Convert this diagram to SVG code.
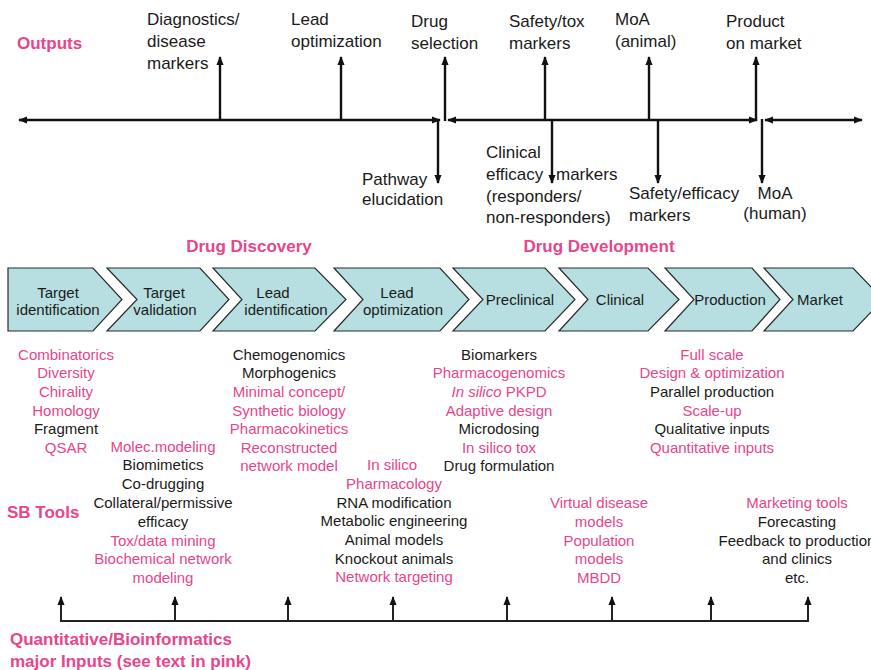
<svg xmlns="http://www.w3.org/2000/svg" width="871" height="670" viewBox="0 0 871 670">
  <defs>
    <marker id="head" viewBox="0 0 10 8" refX="9" refY="4" markerWidth="9" markerHeight="8" markerUnits="userSpaceOnUse" orient="auto-start-reverse">
      <path d="M0,0 L10,4 L0,8 z" fill="#111"/>
    </marker>
    <style>
      text { font-family: "Liberation Sans", Arial, sans-serif; }
      .out { font-size: 17px; fill: #1a1a1a; }
      .hdr { font-size: 17px; font-weight: bold; fill: #E8458B; }
      .stage { fill: #B7DFE1; stroke: #2a2a2a; stroke-width: 1.2; }
      .lbl { font-size: 15px; fill: #1a1a1a; text-anchor: middle; }
      .tool { font-size: 15px; text-anchor: middle; fill: #1a1a1a; }
      .pk { fill: #E8458B; }
      .axis { stroke: #111; stroke-width: 2.4; fill: none; }
      .thin { stroke: #222; stroke-width: 2; fill: none; }
    </style>
  </defs>

  <!-- section headings -->
  <g id="headings">
    <text class="hdr" x="17" y="49">Outputs</text>
    <text class="hdr" x="249" y="252" text-anchor="middle">Drug Discovery</text>
    <text class="hdr" x="599" y="252" text-anchor="middle">Drug Development</text>
    <text class="hdr" x="7" y="518">SB Tools</text>
    <text class="hdr" x="10" y="645">Quantitative/Bioinformatics</text>
    <text class="hdr" x="10" y="667">major Inputs (see text in pink)</text>
  </g>

  <!-- output timeline connectors -->
  <g id="connectors">
    <line class="axis" x1="19" y1="120" x2="440" y2="120" marker-start="url(#head)" marker-end="url(#head)"/>
    <line class="axis" x1="220" y1="121" x2="220" y2="57" marker-end="url(#head)"/>
    <line class="axis" x1="341" y1="121" x2="341" y2="57" marker-end="url(#head)"/>
    <line class="axis" x1="438" y1="119" x2="438" y2="183" marker-end="url(#head)"/>
    <line class="axis" x1="448" y1="120" x2="757" y2="120" marker-start="url(#head)" marker-end="url(#head)"/>
    <line class="axis" x1="445" y1="121" x2="445" y2="57" marker-end="url(#head)"/>
    <line class="axis" x1="545" y1="121" x2="545" y2="57" marker-end="url(#head)"/>
    <line class="axis" x1="552" y1="119" x2="552" y2="183" marker-end="url(#head)"/>
    <line class="axis" x1="649" y1="121" x2="649" y2="57" marker-end="url(#head)"/>
    <line class="axis" x1="658" y1="119" x2="658" y2="183" marker-end="url(#head)"/>
    <line class="axis" x1="756" y1="121" x2="756" y2="57" marker-end="url(#head)"/>
    <line class="axis" x1="765" y1="120" x2="862" y2="120" marker-start="url(#head)" marker-end="url(#head)"/>
    <line class="axis" x1="762" y1="119" x2="762" y2="183" marker-end="url(#head)"/>

    <!-- input bus -->
    <line class="thin" x1="60" y1="621" x2="809" y2="621"/>
    <line class="thin" x1="61" y1="622" x2="61" y2="597" marker-end="url(#head)"/>
    <line class="thin" x1="175" y1="622" x2="175" y2="597" marker-end="url(#head)"/>
    <line class="thin" x1="288" y1="622" x2="288" y2="597" marker-end="url(#head)"/>
    <line class="thin" x1="393" y1="622" x2="393" y2="597" marker-end="url(#head)"/>
    <line class="thin" x1="507" y1="622" x2="507" y2="597" marker-end="url(#head)"/>
    <line class="thin" x1="612" y1="622" x2="612" y2="597" marker-end="url(#head)"/>
    <line class="thin" x1="711" y1="622" x2="711" y2="597" marker-end="url(#head)"/>
    <line class="thin" x1="808" y1="622" x2="808" y2="597" marker-end="url(#head)"/>
  </g>

  <!-- outputs -->
  <g id="out-diagnostics"><text class="out" x="147" y="25">Diagnostics/</text><text class="out" x="147" y="47">disease</text><text class="out" x="147" y="69">markers</text></g>
  <g id="out-lead"><text class="out" x="291" y="25">Lead</text><text class="out" x="291" y="47">optimization</text></g>
  <g id="out-drug"><text class="out" x="411" y="27">Drug</text><text class="out" x="411" y="49">selection</text></g>
  <g id="out-safety-tox"><text class="out" x="509" y="27">Safety/tox</text><text class="out" x="509" y="49">markers</text></g>
  <g id="out-moa-animal"><text class="out" x="615" y="25">MoA</text><text class="out" x="615" y="47">(animal)</text></g>
  <g id="out-product"><text class="out" x="726" y="27">Product</text><text class="out" x="726" y="49">on market</text></g>
  <g id="out-pathway"><text class="out" x="362" y="185">Pathway</text><text class="out" x="362" y="205">elucidation</text></g>
  <g id="out-clinical"><text class="out" x="486" y="158">Clinical</text><text class="out" y="180"><tspan x="486">efficacy</tspan><tspan x="556">markers</tspan></text><text class="out" x="486" y="202">(responders/</text><text class="out" x="486" y="223">non-responders)</text></g>
  <g id="out-safety-efficacy"><text class="out" x="629" y="199">Safety/efficacy</text><text class="out" x="629" y="221">markers</text></g>
  <g id="out-moa-human"><text class="out" x="775" y="199" text-anchor="middle">MoA</text><text class="out" x="775" y="219" text-anchor="middle">(human)</text></g>

  <!-- pipeline stages -->
  <g id="stage-target-id"><path class="stage" d="M8,268 L93,268 L122,299.5 L93,331 L8,331 Z"/><text class="lbl" x="58" y="298">Target</text><text class="lbl" x="58" y="315">identification</text></g>
  <g id="stage-target-val"><path class="stage" d="M107,268 L200,268 L229,299.5 L200,331 L107,331 L137,299.5 Z"/><text class="lbl" x="164" y="298">Target</text><text class="lbl" x="165" y="315">validation</text></g>
  <g id="stage-lead-id"><path class="stage" d="M213,268 L315,268 L346,299.5 L315,331 L213,331 L242,299.5 Z"/><text class="lbl" x="273" y="298">Lead</text><text class="lbl" x="286" y="315">identification</text></g>
  <g id="stage-lead-opt"><path class="stage" d="M334,268 L440,268 L469,299.5 L440,331 L334,331 L363,299.5 Z"/><text class="lbl" x="397" y="298">Lead</text><text class="lbl" x="403" y="315">optimization</text></g>
  <g id="stage-preclinical"><path class="stage" d="M453,268 L545,268 L575,299.5 L545,331 L453,331 L483,299.5 Z"/><text class="lbl" x="520" y="305">Preclinical</text></g>
  <g id="stage-clinical"><path class="stage" d="M559,268 L648,268 L679,299.5 L648,331 L559,331 L588,299.5 Z"/><text class="lbl" x="620" y="305">Clinical</text></g>
  <g id="stage-production"><path class="stage" d="M665,268 L752,268 L780,299.5 L752,331 L665,331 L694,299.5 Z"/><text class="lbl" x="730" y="305">Production</text></g>
  <g id="stage-market"><path class="stage" d="M764,268 L853,268 L883,299.5 L853,331 L764,331 L793,299.5 Z"/><text class="lbl" x="820" y="305">Market</text></g>

  <!-- SB tools per stage -->
  <g id="tools-target-id">
    <text class="tool pk" x="66" y="360">Combinatorics</text>
    <text class="tool pk" x="66" y="378">Diversity</text>
    <text class="tool pk" x="66" y="397">Chirality</text>
    <text class="tool pk" x="66" y="416">Homology</text>
    <text class="tool" x="66" y="434">Fragment</text>
    <text class="tool pk" x="66" y="453">QSAR</text>
  </g>
  <g id="tools-target-val">
    <text class="tool pk" x="163" y="452">Molec.modeling</text>
    <text class="tool" x="163" y="470">Biomimetics</text>
    <text class="tool" x="163" y="489">Co-drugging</text>
    <text class="tool" x="163" y="508">Collateral/permissive</text>
    <text class="tool" x="163" y="527">efficacy</text>
    <text class="tool pk" x="163" y="546">Tox/data mining</text>
    <text class="tool pk" x="163" y="564">Biochemical network</text>
    <text class="tool pk" x="163" y="583">modeling</text>
  </g>
  <g id="tools-lead-id">
    <text class="tool" x="289" y="360">Chemogenomics</text>
    <text class="tool" x="289" y="378">Morphogenics</text>
    <text class="tool pk" x="289" y="397">Minimal concept/</text>
    <text class="tool pk" x="289" y="416">Synthetic biology</text>
    <text class="tool pk" x="289" y="434">Pharmacokinetics</text>
    <text class="tool pk" x="289" y="453">Reconstructed</text>
    <text class="tool pk" x="289" y="471">network model</text>
  </g>
  <g id="tools-lead-opt">
    <text class="tool pk" x="392" y="470">In silico</text>
    <text class="tool pk" x="394" y="489">Pharmacology</text>
    <text class="tool" x="394" y="508">RNA modification</text>
    <text class="tool" x="394" y="526">Metabolic engineering</text>
    <text class="tool" x="394" y="545">Animal models</text>
    <text class="tool" x="394" y="564">Knockout animals</text>
    <text class="tool pk" x="394" y="582">Network targeting</text>
  </g>
  <g id="tools-preclinical">
    <text class="tool" x="499" y="360">Biomarkers</text>
    <text class="tool pk" x="499" y="378">Pharmacogenomics</text>
    <text class="tool pk" x="499" y="397"><tspan font-style="italic">In silico</tspan> PKPD</text>
    <text class="tool pk" x="499" y="416">Adaptive design</text>
    <text class="tool" x="499" y="434">Microdosing</text>
    <text class="tool pk" x="499" y="453">In silico tox</text>
    <text class="tool" x="499" y="471">Drug formulation</text>
  </g>
  <g id="tools-clinical">
    <text class="tool pk" x="599" y="508">Virtual disease</text>
    <text class="tool pk" x="599" y="527">models</text>
    <text class="tool pk" x="599" y="546">Population</text>
    <text class="tool pk" x="599" y="564">models</text>
    <text class="tool pk" x="599" y="583">MBDD</text>
  </g>
  <g id="tools-production">
    <text class="tool pk" x="712" y="360">Full scale</text>
    <text class="tool pk" x="712" y="378">Design &amp; optimization</text>
    <text class="tool" x="712" y="397">Parallel production</text>
    <text class="tool pk" x="712" y="416">Scale-up</text>
    <text class="tool" x="712" y="434">Qualitative inputs</text>
    <text class="tool pk" x="712" y="453">Quantitative inputs</text>
  </g>
  <g id="tools-market">
    <text class="tool pk" x="797" y="508">Marketing tools</text>
    <text class="tool" x="797" y="527">Forecasting</text>
    <text class="tool" x="797" y="546">Feedback to production</text>
    <text class="tool" x="797" y="564">and clinics</text>
    <text class="tool" x="797" y="583">etc.</text>
  </g>
</svg>
